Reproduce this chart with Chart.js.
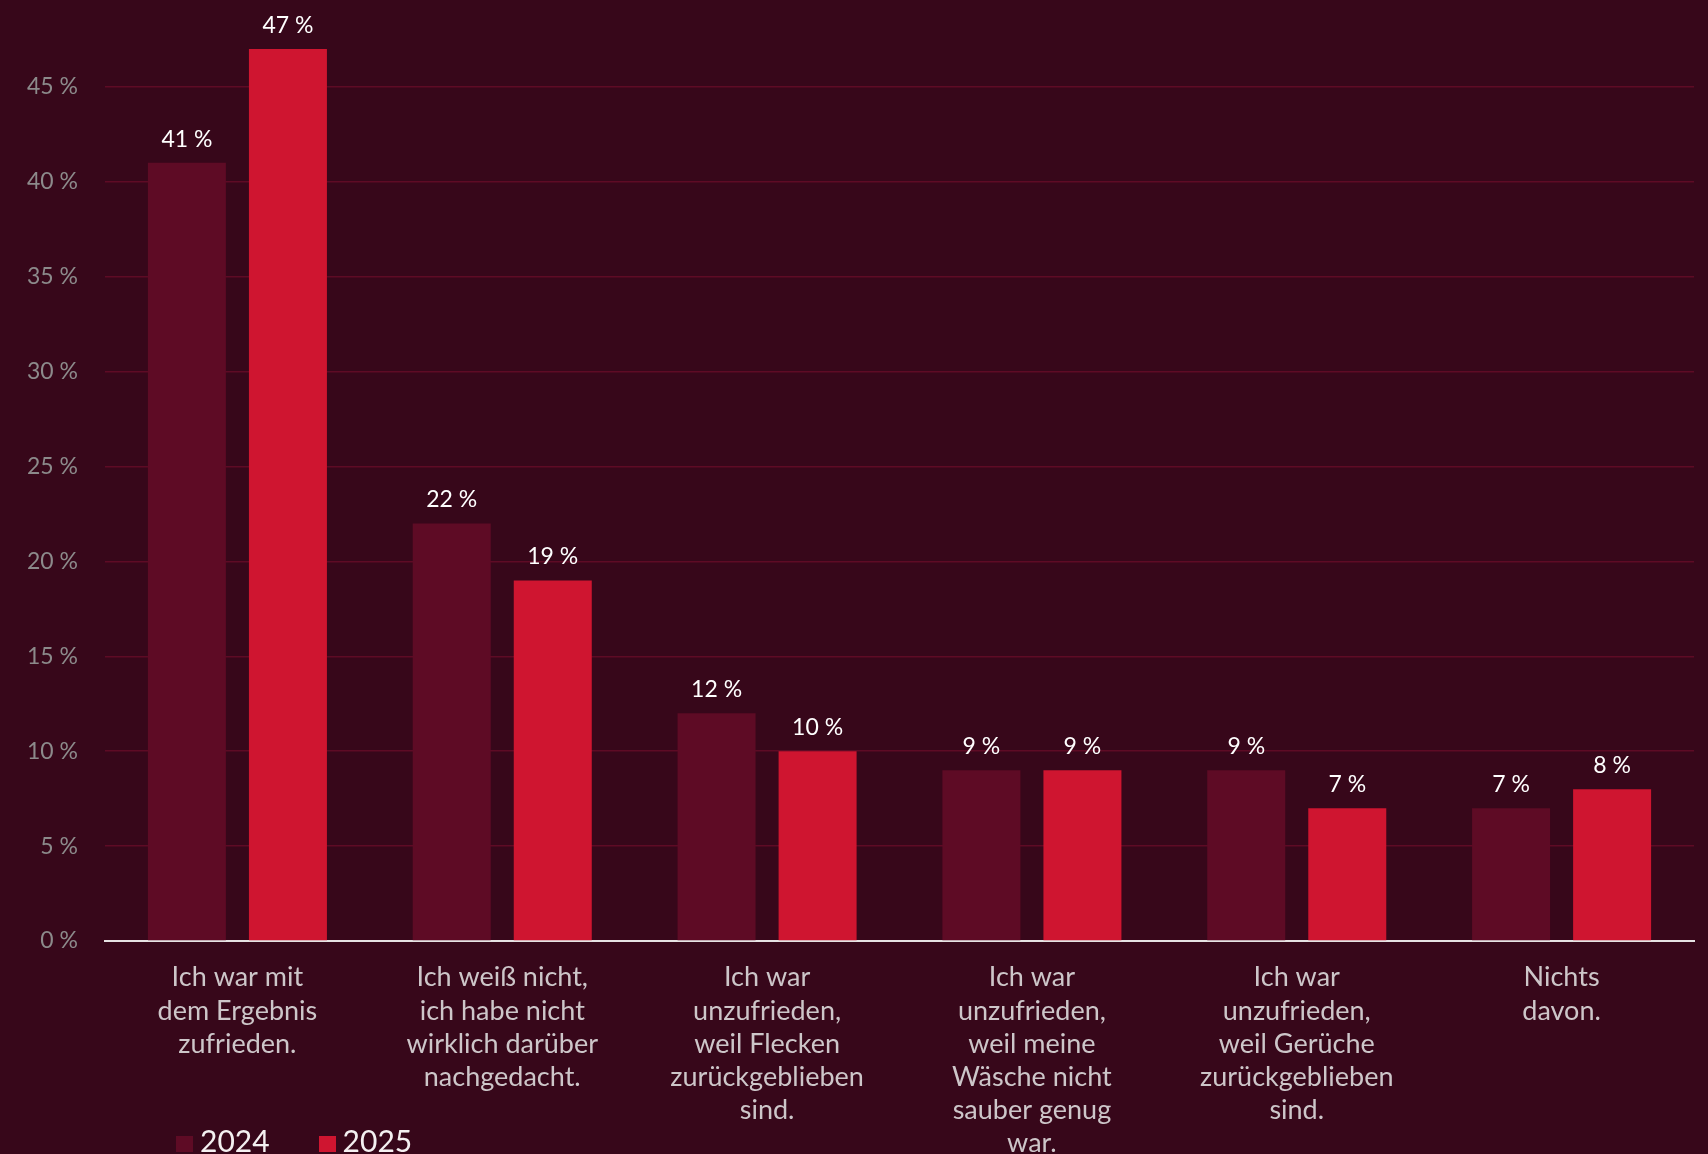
<!DOCTYPE html>
<html>
<head>
<meta charset="utf-8">
<script src="https://cdn.jsdelivr.net/npm/chart.js@4"></script>
<style>
  html, body { margin: 0; padding: 0; background: #37071a; overflow: hidden; }
  #wrap { position: relative; width: 1708px; height: 1154px; }
  #legend { position: absolute; left: 176px; top: 1122px; display: flex; font-family: Lato, sans-serif; font-size: 30px; color: #f4f0f1; }
  .item { display: flex; align-items: center; margin-right: 49px; }
  .box { width: 17px; height: 16px; margin-right: 7px; margin-top: 8px; }
</style>
</head>
<body>
<div id="wrap">
  <canvas id="c" width="1708" height="1154"></canvas>
  <div id="legend"></div>
</div>
<script>
const categories = [
  ["Ich war mit", "dem Ergebnis", "zufrieden."],
  ["Ich weiß nicht,", "ich habe nicht", "wirklich darüber", "nachgedacht."],
  ["Ich war", "unzufrieden,", "weil Flecken", "zurückgeblieben", "sind."],
  ["Ich war", "unzufrieden,", "weil meine", "Wäsche nicht", "sauber genug", "war."],
  ["Ich war", "unzufrieden,", "weil Gerüche", "zurückgeblieben", "sind."],
  ["Nichts", "davon."]
];
const seriesNames = ["2024", "2025"];
const values2024 = [41, 22, 12, 9, 9, 7];
const values2025 = [47, 19, 10, 9, 7, 8];
const colors = ["#5e0b25", "#cf1530"];

const valueLabels = {
  id: 'valueLabels',
  afterDatasetsDraw(chart) {
    const ctx = chart.ctx;
    ctx.save();
    ctx.font = '23px Lato';
    ctx.fillStyle = '#ffffff';
    ctx.textAlign = 'center';
    ctx.textBaseline = 'alphabetic';
    chart.data.datasets.forEach((ds, i) => {
      chart.getDatasetMeta(i).data.forEach((bar, j) => {
        ctx.fillText(ds.data[j] + ' %', bar.x, bar.y - 16);
      });
    });
    ctx.restore();
  }
};

const chart = new Chart(document.getElementById('c'), {
  type: 'bar',
  data: {
    labels: categories,
    datasets: [
      { label: seriesNames[0], data: values2024, backgroundColor: colors[0] },
      { label: seriesNames[1], data: values2025, backgroundColor: colors[1] }
    ]
  },
  options: {
    responsive: false,
    animation: false,
    layout: { padding: { top: 49, right: 14, left: 0, bottom: 0 } },
    datasets: { bar: { categoryPercentage: 0.763, barPercentage: 0.772 } },
    plugins: { legend: { display: false }, tooltip: { enabled: false } },
    scales: {
      x: {
        grid: { display: false, drawTicks: false },
        border: { display: true, color: '#e6e2e3', width: 2 },
        ticks: {
          font: { family: 'Lato', size: 27, lineHeight: 1.23 },
          color: '#cdc6c9',
          padding: 20,
          maxRotation: 0,
          autoSkip: false
        },
        afterFit(scale) { scale.height = 213; }
      },
      y: {
        min: 0,
        max: 47,
        afterBuildTicks(scale) { scale.ticks = scale.ticks.filter(t => t.value % 5 === 0); },
        grid: {
          drawTicks: false,
          lineWidth: 1.5,
          color: ctx => ctx.tick && ctx.tick.value === 0 ? 'rgba(0,0,0,0)' : '#5e0b25'
        },
        border: { display: false },
        ticks: {
          stepSize: 5,
          padding: 27,
          font: { family: 'Lato', size: 23 },
          color: '#8c8a8b',
          callback: v => v + ' %'
        },
        afterFit(scale) { scale.width = 105; }
      }
    }
  },
  plugins: [valueLabels]
});

const legend = document.getElementById('legend');
seriesNames.forEach((name, i) => {
  const item = document.createElement('div');
  item.className = 'item';
  const box = document.createElement('span');
  box.className = 'box';
  box.style.background = colors[i];
  const txt = document.createElement('span');
  txt.textContent = name;
  item.appendChild(box);
  item.appendChild(txt);
  legend.appendChild(item);
});
</script>
</body>
</html>
